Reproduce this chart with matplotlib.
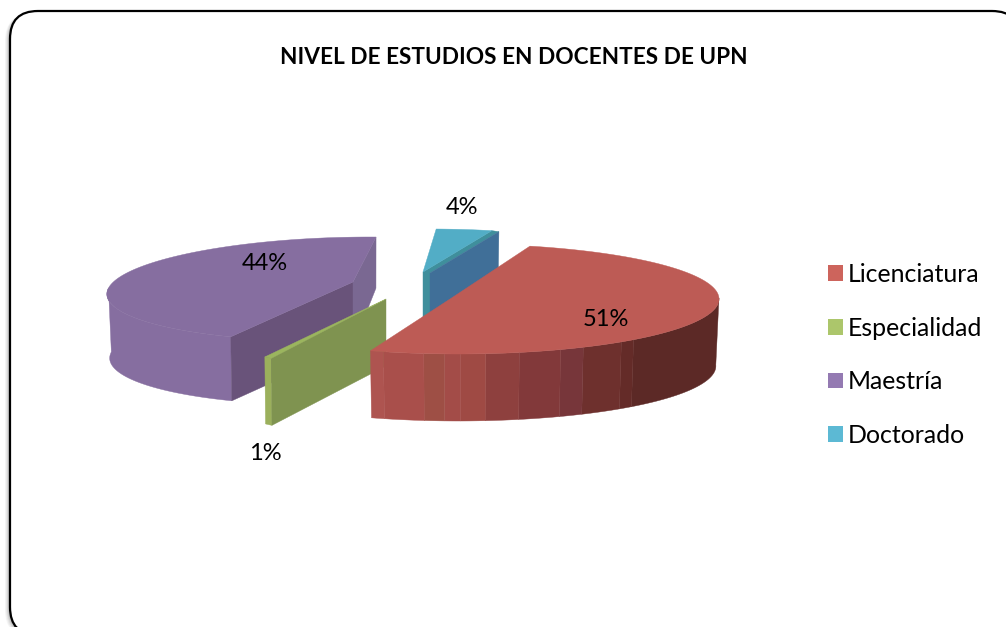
import matplotlib
matplotlib.use('Agg')
import matplotlib.pyplot as plt
import numpy as np
from matplotlib.patches import FancyBboxPatch, Patch, Polygon

title = 'NIVEL DE ESTUDIOS EN DOCENTES DE UPN'
categories = ['Licenciatura', 'Especialidad', 'Maestría', 'Doctorado']
values = [51, 1, 44, 4]
legend_colors = ['#CD645C', '#ACC66B', '#947AB2', '#5CB9D4']

# the slices are cut from the values, clockwise from 12 o'clock
first_angle = 16
bounds = first_angle + np.cumsum([0] + values) * 3.6
angles = {c: (bounds[i], bounds[i + 1]) for i, c in enumerate(categories)}

# layout of every exploded slice, in pixels
layout = {
	'Doctorado': dict(c=(423, 272), r=(226, 43), tilt=-0.16, apex=(0, 0), depth=62, top='#52ADC6',
		rim=[(0, '#3F8F9C')], face0=None, face1='#406F98', gap=7, gap_col='#3F8F9C'),
	'Maestría': dict(c=(346, 289), r=(238, 52), tilt=-0.45, apex=(7, -7), depth=64, top='#866EA0',
		rim=[(0, '#866EA0'), (.55, '#8565A3'), (.61, '#8067A0'), (.91, '#7F6C9A')],
		face0='#69537A', face1='#7A6892', gap=0, gap_col=None),
	'Especialidad': dict(c=(386, 299), r=(140, 63), tilt=-1.14, apex=(0, 0), depth=67, top='#9BB55E',
		rim=[(0, '#9BB05C')], face0='#7F9350', face1=None, gap=0, gap_col=None),
	'Licenciatura': dict(c=(458, 299), r=(261, 55), tilt=0, apex=(-8, 0), depth=67, top='#BD5B55',
		rim=[(0, '#AE5450'), (.04, '#A94F4B'), (.155, '#9E4F45'), (.21, '#A34C48'), (.255, '#9F4A44'),
			(.33, '#8E403E'), (.43, '#82393A'), (.545, '#77363A'), (.61, '#6E302D'), (.72, '#642B28'),
			(.755, '#5C2926')],
		face0=None, face1=None, gap=0, gap_col=None),
}
label_pos = {'Licenciatura': (606, 320), 'Especialidad': (265, 453), 'Maestría': (265, 264), 'Doctorado': (462, 208)}

plt.rcParams['font.family'] = ['Lato', 'DejaVu Sans']

fig = plt.figure(figsize=(10.06, 6.27), dpi=100)
ax = fig.add_axes([0, 0, 1, 1])
ax.set_xlim(0, 1006)
ax.set_ylim(627, 0)
ax.axis('off')


def rim_point(p, t):
	a = np.radians(t)
	dy = -p['r'][1] * np.cos(a)
	x = p['c'][0] + p['r'][0] * np.sin(a) + p['tilt'] * dy
	return np.column_stack([x, p['c'][1] + dy])


def drop(p, t):
	# the back of the pie is a bit shorter
	return p['depth'] * (1 - 0.2 * np.maximum(np.cos(np.radians(t)), 0))


def poly(pts, color, z):
	ax.add_patch(Polygon(pts, closed=True, facecolor=color, edgecolor=color, lw=0.3, zorder=z))


def draw_slice(name, z):
	p = layout[name]
	t0, t1 = angles[name]
	ts = np.linspace(t0, t1, max(int(t1 - t0) * 2, 6))
	arc = rim_point(p, ts)
	apex = np.array([p['c'][0] + p['apex'][0], p['c'][1] + p['apex'][1]], dtype=float)
	# the lower edge pulls in a little, perspective
	pull = -0.012 * p['r'][0] * np.sin(np.radians(ts))
	low = arc + np.column_stack([pull, drop(p, ts)])

	# outer wall, one polygon per colour band, only the front half shows
	xmin, xmax = arc[:, 0].min(), arc[:, 0].max()
	fracs = [b[0] for b in p['rim']]
	front = np.where(np.cos(np.radians(ts)) <= 0.02)[0]
	if len(front) > 1:
		first = front[0]
		xm = (arc[front[:-1], 0] + arc[front[1:], 0]) / 2
		band = np.searchsorted(fracs, (xm - xmin) / (xmax - xmin), side='right') - 1
		start = 0
		for i in range(1, len(band) + 1):
			if i == len(band) or band[i] != band[start]:
				a, b = first + start, first + i + 1
				poly(np.vstack([arc[a:b], low[a:b][::-1]]), p['rim'][max(band[start], 0)][1], z)
				start = i

	# the cut walls
	down = np.array([0, p['depth']])
	if p['face0']:
		poly([apex, arc[0], low[0], apex + down], p['face0'], z + 0.1)
	if p['face1']:
		shift = np.array([p['gap'], 1 if p['gap'] else 0])
		if p['gap']:
			poly([apex, arc[-1], arc[-1] + shift, apex + shift, apex + shift + down, apex + down], p['gap_col'], z + 0.1)
		poly([apex + shift, arc[-1] + shift, low[-1] + shift, apex + shift + down], p['face1'], z + 0.1)

	poly(np.vstack([apex, arc]), p['top'], z + 0.2)


# frame with its soft shadow
for k, g in zip([5, 4, 3, 2, 1], ['#F4F4F4', '#E8E8E8', '#D8D8D8', '#C4C4C4', '#A8A8A8']):
	ax.add_patch(FancyBboxPatch((10 - k, 11 + k * 0.5), 1010, 624, boxstyle='round,pad=0,rounding_size=28',
		facecolor=g, edgecolor='none', zorder=0.5))
ax.add_patch(FancyBboxPatch((10, 11), 1010, 624, boxstyle='round,pad=0,rounding_size=28',
	facecolor='white', edgecolor='black', lw=1.6, zorder=1))

draw_slice('Doctorado', 2)
draw_slice('Maestría', 3)
draw_slice('Especialidad', 4)
draw_slice('Licenciatura', 5)

for c, v in zip(categories, values):
	ax.text(label_pos[c][0], label_pos[c][1], '%d%%' % v, fontsize=17, color='black',
		ha='center', va='center', zorder=8)

ax.text(514, 57, title, fontsize=16.3, fontweight='bold', color='black', ha='center', va='center', zorder=8)

handles = [Patch(facecolor=col, edgecolor='none') for col in legend_colors]
leg = ax.legend(handles, categories, loc='center left', bbox_to_anchor=(821, 355), bbox_transform=ax.transData,
	frameon=False, fontsize=17.9, handlelength=0.6, handleheight=0.6, handletextpad=0.17,
	labelspacing=1.23, borderpad=0.3, borderaxespad=0)
leg.set_zorder(8)

fig.savefig('out.png', dpi=100)
